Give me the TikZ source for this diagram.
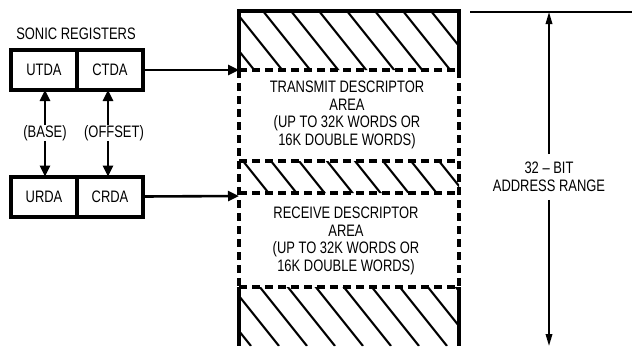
\documentclass[tikz,border=0pt]{standalone}
\usepackage{fontspec}
\setmainfont[FakeStretch=0.78]{Liberation Sans}
\usetikzlibrary{arrows.meta,positioning}

\begin{document}
\begin{tikzpicture}[x=1pt,y=-1pt,
		every node/.style={font=\fontsize{16.6}{17.8}\selectfont,align=center,inner sep=0pt},
		regbox/.style={draw,line width=4pt,minimum width=66pt,minimum height=40pt,outer sep=0pt},
		border/.style={line width=3.4pt},
		dashborder/.style={line width=3.4pt,dash pattern=on 8pt off 5pt},
		hatch/.style={line width=2.1pt},
		link/.style={line width=2.6pt,-{Triangle[length=11pt,width=10pt]}},
		rangearrow/.style={line width=1.8pt,-{Triangle[length=12pt,width=6.5pt]}}]
	\useasboundingbox (0,0) rectangle (632,346);
	%Notation: {left, top, right, bottom} of the hatched bands
	\def\bandTop{11}\def\bandLeft{239}\def\bandRight{459}
	
	% Hatching, clipped to the three unused bands
	\begin{scope}
		\clip (\bandLeft,\bandTop) rectangle (\bandRight,70)
		(\bandLeft,161) rectangle (\bandRight,193)
		(\bandLeft,287) rectangle (\bandRight,346);
		\foreach \k in {-10, ..., 7}{
			\draw[hatch] (263+28*\k,\bandTop)--++(268,335);% One diagonal stroke
		}
	\end{scope}
	
	% Outline of the memory map
	\draw[border] (\bandLeft,70)--(\bandLeft,\bandTop)--(\bandRight,\bandTop)--(\bandRight,70);
	\draw[border] (\bandLeft,287)--(\bandLeft,346) (\bandRight,287)--(\bandRight,346);
	\foreach \y in {70, 161, 193, 287}{
		\draw[dashborder] (\bandLeft,\y)--(\bandRight,\y);% Band boundary
	}
	\draw[dashborder] (\bandLeft,70)--(\bandLeft,287) (\bandRight,70)--(\bandRight,287);
	
	\node (txarea) at (347,115) {TRANSMIT DESCRIPTOR\\AREA\\(UP TO 32K WORDS OR\\16K DOUBLE WORDS)};
	\node (rxarea) at (346,241) {RECEIVE DESCRIPTOR\\AREA\\(UP TO 32K WORDS OR\\16K DOUBLE WORDS)};
	\coordinate (txin) at (\bandLeft,70);
	\coordinate (rxin) at (\bandLeft,196);
	
	% The registers
	\node (title) at (76,34) {SONIC REGISTERS};
	\node[regbox] (utda) at (44,70) {UTDA};
	\node[regbox,anchor=west] (ctda) at (utda.east) {CTDA};
	\node[regbox] (urda) at (44,196.5) {URDA};
	\node[regbox,anchor=west] (crda) at (urda.east) {CRDA};
	\node (base) at (45,133) {(BASE)};
	\node (offset) at (114,133) {(OFFSET)};
	
	\draw[link] (base.north)--(base.north |- utda.south);
	\draw[link] (base.south)--(base.south |- urda.north);
	\draw[link] (offset.north -| 108,0)--(ctda.south -| 108,0);
	\draw[link] (offset.south -| 108,0)--(crda.north -| 108,0);
	\draw[link] (ctda.east)--(txin);
	\draw[link] (crda.east)--(rxin);
	
	% Address range
	\coordinate (rangetop) at (549,12);
	\coordinate (rangebot) at (549,346);
	\draw[line width=2.2pt] (470,12)--(632,12);
	\node[inner sep=8pt] (bits) at (549,177) {32 -- BIT\\ADDRESS RANGE};
	\draw[rangearrow] (bits.north)--(rangetop);
	\draw[rangearrow] (bits.south)--(rangebot);
\end{tikzpicture}
\end{document}
